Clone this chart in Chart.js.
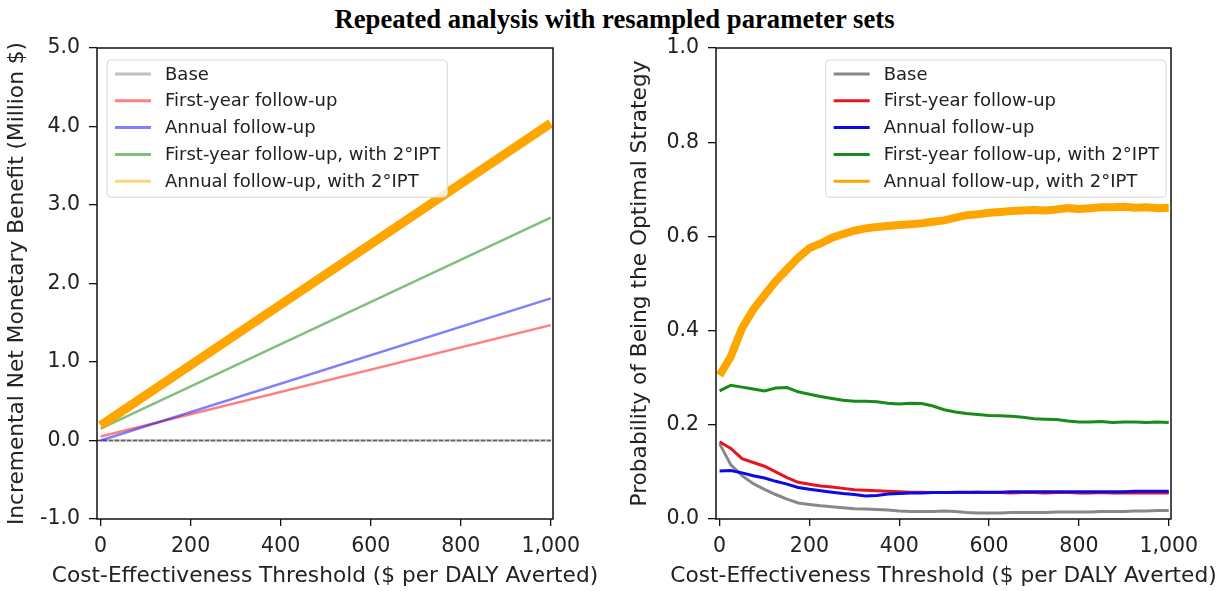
<!DOCTYPE html>
<html>
<head>
<meta charset="utf-8">
<script src="https://cdn.jsdelivr.net/npm/chart.js@4"></script>
<style>
  body { margin: 0; background: #fff; width: 1229px; height: 591px; position: relative; overflow: hidden; }
  #title { position: absolute; left: 0; top: 3px; width: 1229px; text-align: center;
           font: bold 26.7px "Liberation Serif", "Times New Roman", serif; color: #000; line-height: 32px; }
  .box { position: absolute; top: 30px; height: 561px; }
  #leftBox { left: 0; width: 600px; }
  #rightBox { left: 620px; width: 609px; }
</style>
</head>
<body>
<div id="title">Repeated analysis with resampled parameter sets</div>
<div class="box" id="leftBox"><canvas id="nmbChart"></canvas></div>
<div class="box" id="rightBox"><canvas id="probChart"></canvas></div>
<script>
// strategy names
const strategies = ["Base", "First-year follow-up", "Annual follow-up",
  "First-year follow-up, with 2°IPT", "Annual follow-up, with 2°IPT"];

// left panel: incremental NMB (million $) at threshold 0 and 1000
const nmbX = [0, 1000];
const nmbBase = [0, 0];
const nmbFirstYear = [0.05, 1.47];
const nmbAnnual = [0.0, 1.81];
const nmbFirstYearIPT = [0.15, 2.84];
const nmbAnnualIPT = [0.19, 4.04];

// right panel: probability of being optimal
const probX = [0, 25, 50, 75, 100, 125, 150, 175, 200, 225, 250, 275, 300, 325, 350, 375, 400,
  425, 450, 475, 500, 525, 550, 575, 600, 625, 650, 675, 700, 725, 750, 775, 800, 825, 850,
  875, 900, 925, 950, 975, 1000];
const probBase = [0.160, 0.115, 0.092, 0.075, 0.063, 0.052, 0.042, 0.034, 0.031, 0.028, 0.026,
  0.024, 0.022, 0.021, 0.020, 0.019, 0.017, 0.016, 0.016, 0.016, 0.017, 0.016, 0.014, 0.013,
  0.013, 0.013, 0.014, 0.014, 0.014, 0.014, 0.015, 0.015, 0.015, 0.015, 0.016, 0.016, 0.016,
  0.017, 0.017, 0.018, 0.018];
const probFirstYear = [0.164, 0.150, 0.128, 0.120, 0.112, 0.100, 0.088, 0.078, 0.074, 0.070,
  0.068, 0.065, 0.062, 0.061, 0.060, 0.059, 0.058, 0.057, 0.057, 0.056, 0.056, 0.056, 0.056,
  0.057, 0.056, 0.056, 0.055, 0.056, 0.056, 0.055, 0.056, 0.056, 0.055, 0.055, 0.056, 0.055,
  0.055, 0.055, 0.055, 0.055, 0.055];
const probAnnual = [0.102, 0.103, 0.098, 0.092, 0.087, 0.080, 0.074, 0.067, 0.063, 0.060, 0.057,
  0.054, 0.052, 0.049, 0.050, 0.053, 0.054, 0.055, 0.055, 0.056, 0.056, 0.057, 0.057, 0.057,
  0.057, 0.057, 0.058, 0.058, 0.058, 0.058, 0.058, 0.058, 0.058, 0.058, 0.058, 0.058, 0.058,
  0.059, 0.059, 0.059, 0.059];
const probFirstYearIPT = [0.272, 0.284, 0.280, 0.276, 0.272, 0.278, 0.279, 0.270, 0.265, 0.260,
  0.256, 0.252, 0.250, 0.250, 0.249, 0.246, 0.244, 0.246, 0.245, 0.240, 0.232, 0.227, 0.224,
  0.222, 0.220, 0.219, 0.218, 0.216, 0.213, 0.212, 0.211, 0.208, 0.206, 0.206, 0.207, 0.205,
  0.206, 0.206, 0.205, 0.206, 0.205];
const probAnnualIPT = [0.305, 0.345, 0.405, 0.445, 0.475, 0.505, 0.530, 0.555, 0.575, 0.585,
  0.597, 0.605, 0.612, 0.617, 0.620, 0.622, 0.624, 0.626, 0.628, 0.631, 0.634, 0.640, 0.645,
  0.647, 0.650, 0.652, 0.654, 0.655, 0.656, 0.655, 0.657, 0.660, 0.658, 0.660, 0.662, 0.662,
  0.663, 0.661, 0.662, 0.660, 0.661];

// ticks
const xTicks = [0, 200, 400, 600, 800, 1000];
const nmbTicks = [-1, 0, 1, 2, 3, 4, 5];
const probTicks = [0, 0.2, 0.4, 0.6, 0.8, 1.0];

const xLabel = "Cost-Effectiveness Threshold ($ per DALY Averted)";

const FONT = '"DejaVu Sans", sans-serif';
const TXT = "#222";

const pts = (xs, ys) => xs.map((x, i) => ({ x: x, y: ys[i] }));

// box around plot, dashed zero line, x label, matplotlib style legend
const framePlugin = {
  id: "frame",
  beforeDatasetsDraw(chart, args, opts) {
    if (!opts.zeroLine) return;
    const ctx = chart.ctx, a = chart.chartArea;
    const y = chart.scales.y.getPixelForValue(0);
    ctx.save();
    ctx.strokeStyle = "#444";
    ctx.lineWidth = 1.3;
    ctx.setLineDash([4, 2]);
    ctx.beginPath();
    ctx.moveTo(a.left, y);
    ctx.lineTo(a.right, y);
    ctx.stroke();
    ctx.restore();
  },
  afterDraw(chart, args, opts) {
    const ctx = chart.ctx, a = chart.chartArea;
    ctx.save();
    ctx.strokeStyle = "#111";
    ctx.lineWidth = 1.5;
    ctx.strokeRect(a.left, a.top, a.right - a.left, a.bottom - a.top);

    // x axis label (wider than the plot, so drawn here unsqueezed)
    ctx.font = "21.7px " + FONT;
    ctx.fillStyle = TXT;
    ctx.textAlign = "center";
    ctx.textBaseline = "middle";
    ctx.fillText(xLabel, (a.left + a.right) / 2, 546);
    ctx.textAlign = "left";

    // legend
    const items = chart.data.datasets;
    ctx.font = "18px " + FONT;
    const textW = Math.max(...items.map(d => ctx.measureText(d.label).width));
    const w = 58 + textW + 7;
    const rowH = 26.8;
    const h = 14 + (items.length - 1) * rowH + 16;
    const x0 = opts.align === "right" ? a.right - 5 - w : a.left + 10;
    const y0 = a.top + 12;
    ctx.fillStyle = "rgba(255,255,255,0.8)";
    ctx.strokeStyle = "#d6d6d6";
    ctx.lineWidth = 1;
    ctx.beginPath();
    ctx.roundRect(x0, y0, w, h, 4);
    ctx.fill();
    ctx.stroke();
    items.forEach((d, i) => {
      const y = y0 + 14 + i * rowH;
      ctx.strokeStyle = d.legendColor || d.borderColor;
      ctx.lineWidth = 3;
      ctx.beginPath();
      ctx.moveTo(x0 + 8, y);
      ctx.lineTo(x0 + 44, y);
      ctx.stroke();
      ctx.fillStyle = TXT;
      ctx.fillText(d.label, x0 + 58, y + 1);
    });
    ctx.restore();
  }
};

function xScale() {
  return {
    type: "linear", min: -8, max: 1005,
    afterBuildTicks: s => { s.ticks = xTicks.map(v => ({ value: v })); },
    afterFit: s => { s.height = 72; s.paddingLeft = 0; s.paddingRight = 0; },
    border: { display: false },
    grid: { drawOnChartArea: false, drawTicks: true, tickLength: 7, color: "#111", lineWidth: 1.3 },
    ticks: { font: { family: FONT, size: 20.5 }, color: TXT, padding: 8, maxRotation: 0,
             callback: v => v.toLocaleString("en-US") }
  };
}

function yScale(min, max, ticks, width, label, titlePad) {
  return {
    type: "linear", min: min, max: max,
    afterBuildTicks: s => { s.ticks = ticks.map(v => ({ value: v })); },
    afterFit: s => { s.width = width; s.paddingTop = 0; s.paddingBottom = 0; },
    border: { display: false },
    grid: { drawOnChartArea: false, drawTicks: true, tickLength: 8, color: "#111", lineWidth: 1.3 },
    ticks: { font: { family: FONT, size: 20.5 }, color: TXT, padding: 9,
             callback: v => v.toFixed(1) },
    title: { display: true, text: label, font: { family: FONT, size: 21.7 }, color: TXT,
             padding: { top: titlePad, bottom: 0 } }
  };
}

// left: incremental net monetary benefit
new Chart(document.getElementById("nmbChart"), {
  type: "line",
  data: {
    datasets: [
      { label: strategies[0], data: pts(nmbX, nmbBase), borderColor: "rgba(128,128,128,0.5)", borderWidth: 2.5, order: 4 },
      { label: strategies[1], data: pts(nmbX, nmbFirstYear), borderColor: "rgba(255,0,0,0.5)", borderWidth: 2.5, order: 3 },
      { label: strategies[2], data: pts(nmbX, nmbAnnual), borderColor: "rgba(0,0,255,0.5)", borderWidth: 2.5, order: 2 },
      { label: strategies[3], data: pts(nmbX, nmbFirstYearIPT), borderColor: "rgba(0,128,0,0.5)", borderWidth: 2.5, order: 1 },
      { label: strategies[4], data: pts(nmbX, nmbAnnualIPT), borderColor: "#ffa500", legendColor: "rgba(255,165,0,0.5)", borderWidth: 9, order: 0 }
    ]
  },
  options: {
    responsive: true,
    maintainAspectRatio: false,
    animation: false,
    elements: { point: { radius: 0 }, line: { tension: 0 } },
    layout: { padding: { top: 18, right: 47, left: 0, bottom: 0 } },
    scales: {
      x: xScale(),
      y: yScale(-1, 5, nmbTicks, 97, "Incremental Net Monetary Benefit (Million $)", 4)
    },
    plugins: { legend: { display: false }, tooltip: { enabled: false },
               frame: { zeroLine: true, align: "left" } }
  },
  plugins: [framePlugin]
});

// right: probability of being the optimal strategy
new Chart(document.getElementById("probChart"), {
  type: "line",
  data: {
    datasets: [
      { label: strategies[0], data: pts(probX, probBase), borderColor: "#888888", borderWidth: 3, order: 4 },
      { label: strategies[1], data: pts(probX, probFirstYear), borderColor: "#e8141c", borderWidth: 3, order: 3 },
      { label: strategies[2], data: pts(probX, probAnnual), borderColor: "#0a0ae6", borderWidth: 3, order: 2 },
      { label: strategies[3], data: pts(probX, probFirstYearIPT), borderColor: "#1a8a1a", borderWidth: 3, order: 1 },
      { label: strategies[4], data: pts(probX, probAnnualIPT), borderColor: "#ffa500", borderWidth: 8, order: 0 }
    ]
  },
  options: {
    responsive: true,
    maintainAspectRatio: false,
    animation: false,
    elements: { point: { radius: 0 }, line: { tension: 0 } },
    layout: { padding: { top: 18, right: 58, left: 0, bottom: 0 } },
    scales: {
      x: xScale(),
      y: yScale(0, 1, probTicks, 96, "Probability of Being the Optimal Strategy", 7)
    },
    plugins: { legend: { display: false }, tooltip: { enabled: false },
               frame: { zeroLine: false, align: "right" } }
  },
  plugins: [framePlugin]
});
</script>
</body>
</html>
